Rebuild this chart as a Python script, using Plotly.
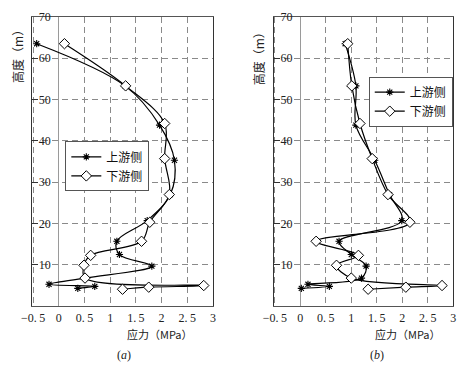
import plotly.graph_objects as go

# ---- data ----
height_up = [63.5, 53.3, 43.8, 35.3, 27.0, 20.7, 15.7, 12.5, 9.7, 6.8, 5.3, 4.8, 4.3]
height_down = [63.5, 53.3, 44.2, 35.7, 27.0, 20.3, 15.7, 12.3, 9.9, 6.8, 5.0, 4.6, 4.1]

a_up = [-0.43, 1.29, 1.96, 2.25, 2.17, 1.72, 1.13, 1.18, 1.81, 0.51, -0.19, 0.70, 0.37]
a_down = [0.11, 1.30, 2.06, 2.06, 2.15, 1.77, 1.61, 0.62, 0.49, 0.51, 2.82, 1.75, 1.24]

b_up = [0.88, 1.09, 1.09, 1.46, 1.75, 1.99, 0.76, 1.00, 1.29, 1.20, 0.15, 0.57, 0.02]
b_down = [0.93, 1.01, 1.17, 1.41, 1.72, 2.15, 0.31, 1.14, 0.71, 1.00, 2.78, 2.07, 1.33]

series_names = ["上游侧", "下游侧"]
x_tickvals = [-0.5, 0, 0.5, 1, 1.5, 2, 2.5, 3]
x_ticktext = ["−0.\u20095", "0", "0.\u20095", "1", "1.\u20095", "2", "2.\u20095", "3"]
y_tickvals = [10, 20, 30, 40, 50, 60, 70]
y_ticktext = ["10", "20", "30", "40", "50", "60", "70"]
x_title = "应力（MPa）"
y_title = "高度（m）"
panel_labels = ["(<i>a</i>)", "(<i>b</i>)"]

FONT = "Liberation Serif, Noto Sans CJK SC, serif"
CJK = "Noto Sans CJK SC, sans-serif"

fig = go.Figure()

panels = [(a_up, a_down, "x", "y", "legend"), (b_up, b_down, "x2", "y2", "legend2")]
for up, down, xa, ya, lg in panels:
    fig.add_trace(go.Scatter(
        x=up, y=height_up, xaxis=xa, yaxis=ya, name=series_names[0], legend=lg,
        mode="lines+markers", line=dict(color="black", width=1.2, shape="spline", smoothing=1.0),
        marker=dict(symbol="asterisk", size=6, color="black", line=dict(color="black", width=1.1)),
    ))
    fig.add_trace(go.Scatter(
        x=down, y=height_down, xaxis=xa, yaxis=ya, name=series_names[1], legend=lg,
        mode="lines+markers", line=dict(color="black", width=1.2, shape="spline", smoothing=1.0),
        marker=dict(symbol="diamond", size=8, color="white", line=dict(color="black", width=1)),
    ))

xcommon = dict(
    range=[-0.52, 3.0], tickvals=x_tickvals, ticktext=x_ticktext, ticks="",
    ticklabeloverflow="allow",
    showgrid=True, gridcolor="#8a8a8a", griddash="6px,4px", gridwidth=1,
    zeroline=True, zerolinecolor="#9a9a9a", zerolinewidth=1,
    showline=True, linecolor="#555", linewidth=1, mirror=True,
    tickfont=dict(family=FONT, size=12, color="#222"),
)
ycommon = dict(
    range=[0, 70], tickvals=y_tickvals, ticktext=y_ticktext,
    ticks="inside", ticklen=6, tickcolor="#333",
    ticklabelposition="inside", ticklabeloverflow="allow",
    showgrid=True, gridcolor="#8a8a8a", griddash="6px,4px", gridwidth=1,
    zeroline=False,
    showline=True, linecolor="#333", linewidth=1.3, mirror=True,
    tickfont=dict(family=FONT, size=12, color="#222"),
)

fig.update_layout(
    width=464, height=368,
    margin=dict(l=0, r=0, t=0, b=0),
    paper_bgcolor="white", plot_bgcolor="white",
    showlegend=True,
    xaxis=dict(domain=[0.0468, 0.4489], anchor="y", **xcommon),
    yaxis=dict(domain=[0.1712, 0.9728], anchor="x", **ycommon),
    xaxis2=dict(domain=[0.584, 0.9828], anchor="y2", **xcommon),
    yaxis2=dict(domain=[0.1712, 0.9728], anchor="x2", **ycommon),
    legend=dict(x=0.1207, y=0.6277, xanchor="left", yanchor="top",
                bordercolor="#555", borderwidth=1, bgcolor="white",
                font=dict(family=CJK, size=12, color="#111"), tracegroupgap=0,
                itemwidth=30),
    legend2=dict(x=0.795, y=0.807, xanchor="left", yanchor="top",
                 bordercolor="#555", borderwidth=1, bgcolor="white",
                 font=dict(family=CJK, size=12, color="#111"), tracegroupgap=0,
                 itemwidth=30),
)

anns = []
for cx, cy in [(6, 47), (255, 50)]:
    anns.append(dict(text=y_title, x=cx / 464, y=1 - cy / 368, xref="paper", yref="paper",
                     showarrow=False, textangle=-90, font=dict(family=CJK, size=12, color="#222"),
                     xanchor="center", yanchor="middle"))
for cx in [154, 409]:
    anns.append(dict(text=x_title, x=cx / 464, y=1 - 333 / 368, xref="paper", yref="paper",
                     showarrow=False, font=dict(family=CJK, size=11, color="#222"),
                     xanchor="center", yanchor="middle"))
for cx, lab in zip([117, 377], panel_labels):
    anns.append(dict(text=lab, x=cx / 464, y=1 - 355 / 368, xref="paper", yref="paper",
                     showarrow=False, font=dict(family=FONT, size=12, color="#222"),
                     xanchor="center", yanchor="middle"))
fig.update_layout(annotations=anns)

fig.write_html("out.html", config={"displayModeBar": False},
               post_script="document.body.style.margin='0';")
